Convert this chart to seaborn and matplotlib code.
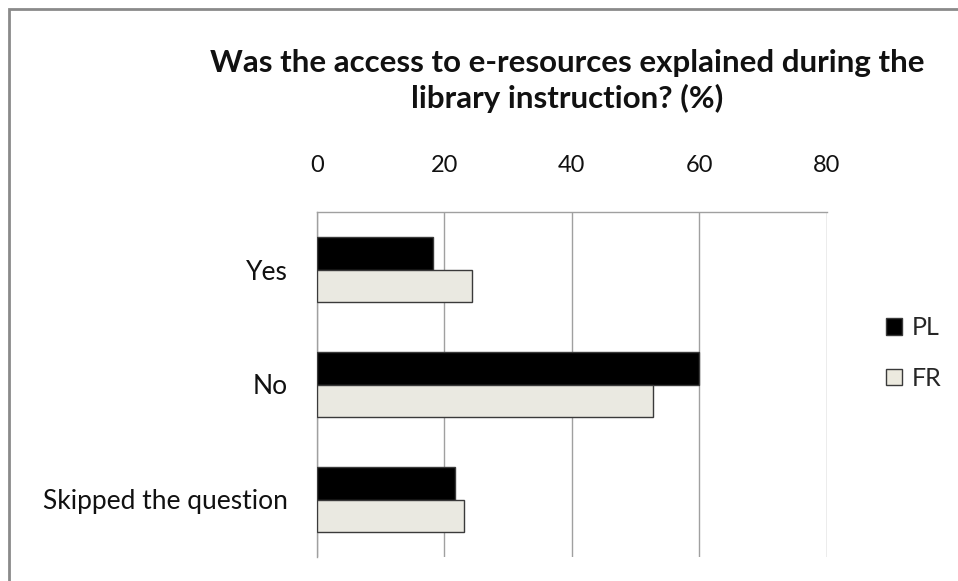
import matplotlib
matplotlib.use("Agg")
import matplotlib.pyplot as plt
import seaborn as sns
import pandas as pd
from matplotlib.patches import Patch, Rectangle

categories = ["Yes", "No", "Skipped the question"]
series_names = ["PL", "FR"]
pl_values = [18.3, 60.0, 21.7]
fr_values = [24.3, 52.8, 23.1]
x_ticks = [0, 20, 40, 60, 80]
title = "Was the access to e-resources explained during the\nlibrary instruction? (%)"

df = pd.DataFrame({
    "category": categories * 2,
    "series": [series_names[0]] * 3 + [series_names[1]] * 3,
    "value": pl_values + fr_values,
})

sns.set_theme(style="white")
plt.rcParams["font.family"] = ["Lato", "DejaVu Sans"]

colors = {"PL": "#000000", "FR": "#ECEADF"}

fig = plt.figure(figsize=(9.58, 5.81), dpi=100)
ax = fig.add_axes([316.7 / 958, 1 - 557 / 581, (826.5 - 316.7) / 958, (557 - 212) / 581])

sns.barplot(data=df, y="category", x="value", hue="series", order=categories,
            hue_order=series_names, palette=colors, orient="h", width=0.56,
            edgecolor="#3a3a3a", linewidth=1.0, ax=ax, legend=False, zorder=3)

ax.set_xlim(0, 80)
ax.set_ylim(2.5, -0.5)
ax.set_xticks(x_ticks)
ax.set_xticklabels([str(t) for t in x_ticks])
ax.xaxis.tick_top()
ax.tick_params(axis="x", which="both", length=0, pad=26, labelsize=17, colors="#111111")
ax.tick_params(axis="y", length=0, pad=21, labelsize=19, colors="#111111")
ax.set_xlabel("")
ax.set_ylabel("")
ax.grid(axis="x", color="#a0a0a0", linewidth=1.0, zorder=0)
ax.set_axisbelow(True)
for side in ["bottom", "right"]:
    ax.spines[side].set_visible(False)
for side in ["top", "left"]:
    ax.spines[side].set_color("#a0a0a0")
    ax.spines[side].set_linewidth(1.0)

fig.text(567 / 958, 1 - 81 / 581, title, ha="center", va="center", fontsize=22.5,
         fontweight="bold", linespacing=1.3, color="#111111")

handles = [Patch(facecolor=colors[s], edgecolor="#3a3a3a", linewidth=1.0, label=s) for s in series_names]
fig.legend(handles=handles, loc="center left", bbox_to_anchor=(868 / 958, 1 - 353 / 581),
           frameon=False, handlelength=0.65, handleheight=0.65, handletextpad=0.4,
           labelspacing=1.1, fontsize=18, borderpad=0.2)

fig.patches.append(Rectangle((8.5 / 958, -0.1), 1.2, 1 - 8.5 / 581 + 0.1, transform=fig.transFigure,
                             fill=False, edgecolor="#8a8a8a", linewidth=2.0))

fig.savefig("out.png", dpi=100)
